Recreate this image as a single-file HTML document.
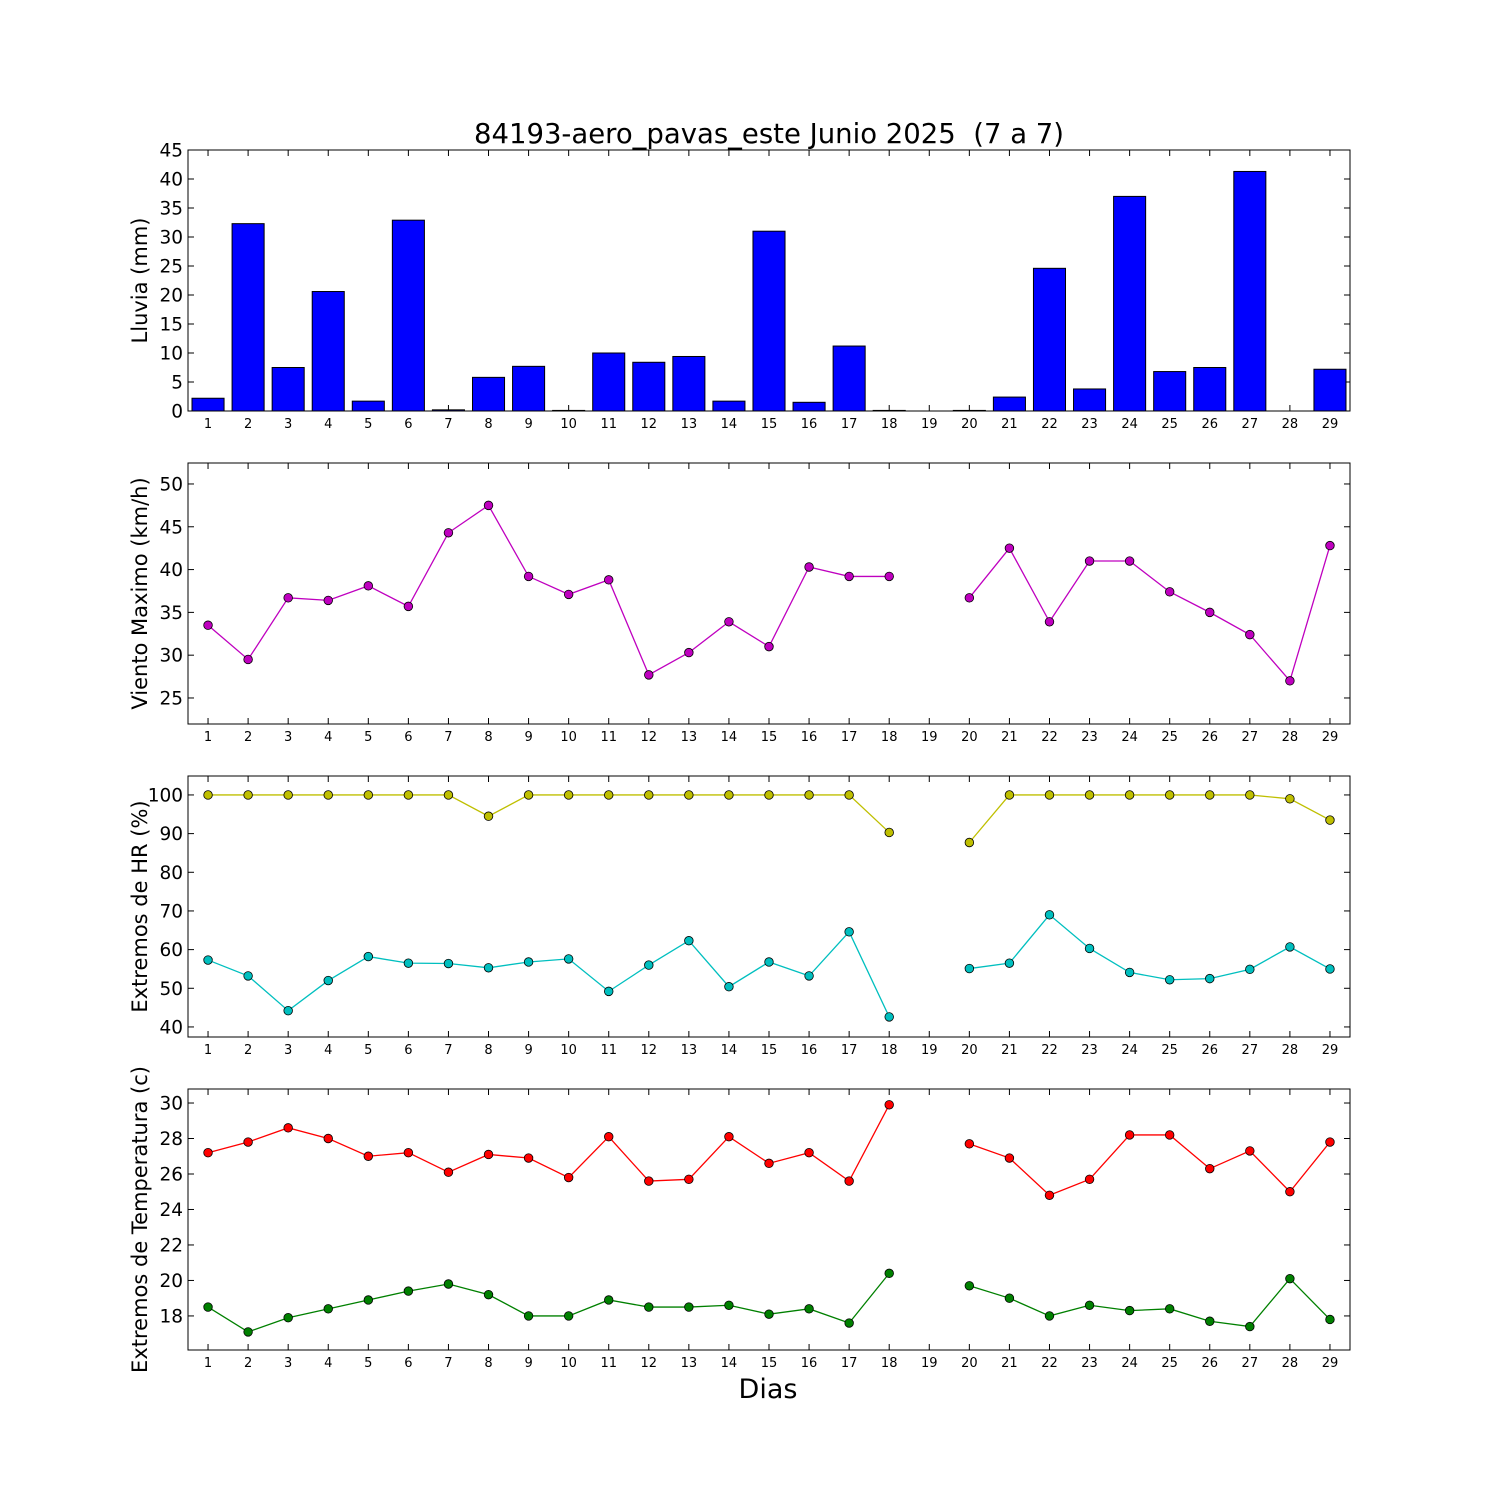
<!DOCTYPE html>
<html><head><meta charset="utf-8"><style>body{margin:0;background:#fff}svg{display:block;font-family:"DejaVu Sans","Liberation Sans",sans-serif}text{white-space:pre}</style></head>
<body>
<svg id="c" width="1500" height="1500"></svg>
<script>
const days=[1,2,3,4,5,6,7,8,9,10,11,12,13,14,15,16,17,18,19,20,21,22,23,24,25,26,27,28,29];
const rain=[2.2,32.3,7.5,20.6,1.7,32.9,0.2,5.8,7.7,0.1,10,8.4,9.4,1.7,31,1.5,11.2,0.1,0,0.1,2.4,24.6,3.8,37,6.8,7.5,41.3,0,7.2];
const wind=[33.5,29.5,36.7,36.4,38.1,35.7,44.3,47.5,39.2,37.1,38.8,27.7,30.3,33.9,31,40.3,39.2,39.2,null,36.7,42.5,33.9,41,41,37.4,35,32.4,27,42.8];
const hrMax=[100,100,100,100,100,100,100,94.5,100,100,100,100,100,100,100,100,100,90.3,null,87.7,100,100,100,100,100,100,100,99,93.5];
const hrMin=[57.3,53.2,44.2,52,58.2,56.5,56.4,55.3,56.8,57.6,49.2,56,62.3,50.4,56.8,53.2,64.6,42.6,null,55.1,56.5,69,60.3,54.1,52.2,52.5,54.9,60.7,55];
const tMax=[27.2,27.8,28.6,28,27,27.2,26.1,27.1,26.9,25.8,28.1,25.6,25.7,28.1,26.6,27.2,25.6,29.9,null,27.7,26.9,24.8,25.7,28.2,28.2,26.3,27.3,25,27.8];
const tMin=[18.5,17.1,17.9,18.4,18.9,19.4,19.8,19.2,18,18,18.9,18.5,18.5,18.6,18.1,18.4,17.6,20.4,null,19.7,19,18,18.6,18.3,18.4,17.7,17.4,20.1,17.8];
const rainTicks=[0,5,10,15,20,25,30,35,40,45];
const windTicks=[25,30,35,40,45,50];
const hrTicks=[40,50,60,70,80,90,100];
const tTicks=[18,20,22,24,26,28,30];

const NS="http://www.w3.org/2000/svg";
const svg=document.getElementById('c');
const L=188,R=1350;
function mk(tag,at,parent){const e=document.createElementNS(NS,tag);for(const k in at)e.setAttribute(k,at[k]);(parent||svg).appendChild(e);return e;}
const xs=d=>L+(d-0.5)*(R-L)/29;
function panel(name,top,bot,ymin,ymax,ticks,label){
  const g=mk('g',{});
  
  
  const ys=v=>bot-(v-ymin)/(ymax-ymin)*(bot-top);
  for(const t of ticks){const y=ys(t);
    mk('line',{x1:L,x2:L+6,y1:y,y2:y,stroke:'#000'},g);mk('line',{x1:R-6,x2:R,y1:y,y2:y,stroke:'#000'},g);
    const tx=mk('text',{x:L-5,y:y+6.5,'text-anchor':'end','font-size':18.5},g);tx.textContent=t;
    }
  for(const d of days){const x=xs(d);
    mk('line',{x1:x,x2:x,y1:bot,y2:bot-6,stroke:'#000'},g);mk('line',{x1:x,x2:x,y1:top,y2:top+6,stroke:'#000'},g);
    const tx=mk('text',{x:x,y:bot+17,'text-anchor':'middle','font-size':13},g);tx.textContent=d;
    }
  const yl=mk('text',{transform:`translate(147,${(top+bot)/2}) rotate(-90)`,'text-anchor':'middle','font-size':21},g);yl.textContent=label;
  
  return {g,ys,top,bot};
}
function frame(p){mk('rect',{x:L,y:p.top,width:R-L,height:p.bot-p.top,fill:'none',stroke:'#000','stroke-width':1},p.g);}
function series(p,vals,color,name){
  let seg=[];const segs=[];
  vals.forEach((v,i)=>{if(v==null){if(seg.length)segs.push(seg);seg=[];}else seg.push([xs(days[i]),p.ys(v)]);});
  if(seg.length)segs.push(seg);
  for(const s of segs){const pl=mk('polyline',{points:s.map(q=>q.join(',')).join(' '),fill:'none',stroke:color,'stroke-width':1.3},p.g);
    }
  vals.forEach((v,i)=>{if(v==null)return;const c=mk('circle',{cx:xs(days[i]),cy:p.ys(v),r:4.3,fill:color,stroke:'#000','stroke-width':0.8},p.g);
    });
}
const t=mk('text',{x:769,y:143,'text-anchor':'middle','font-size':27.5});t.textContent='84193-aero_pavas_este Junio 2025  (7 a 7)';


const p1=panel('rain-panel',150,411,0,45,rainTicks,'Lluvia (mm)');
const bw=(R-L)/29*0.8;
rain.forEach((v,i)=>{const y=p1.ys(v);const b=mk('rect',{x:xs(days[i])-bw/2,y:y,width:bw,height:p1.bot-y,fill:'#0000ff',stroke:'#000','stroke-width':1},p1.g);
  });
frame(p1);
const p2=panel('wind-panel',463,724,21.96,52.45,windTicks,'Viento Maximo (km/h)');
series(p2,wind,'#bf00bf','wind');frame(p2);
const p3=panel('humidity-panel',776,1037,37.4,104.9,hrTicks,'Extremos de HR (%)');
series(p3,hrMax,'#bfbf00','hr-max');series(p3,hrMin,'#00bfbf','hr-min');frame(p3);
const p4=panel('temperature-panel',1089,1350,16.08,30.79,tTicks,'Extremos de Temperatura (c)');
series(p4,tMax,'#ff0000','temp-max');series(p4,tMin,'#008000','temp-min');frame(p4);
const xl=mk('text',{x:768,y:1398,'text-anchor':'middle','font-size':27});xl.textContent='Dias';

</script>
</body></html>
